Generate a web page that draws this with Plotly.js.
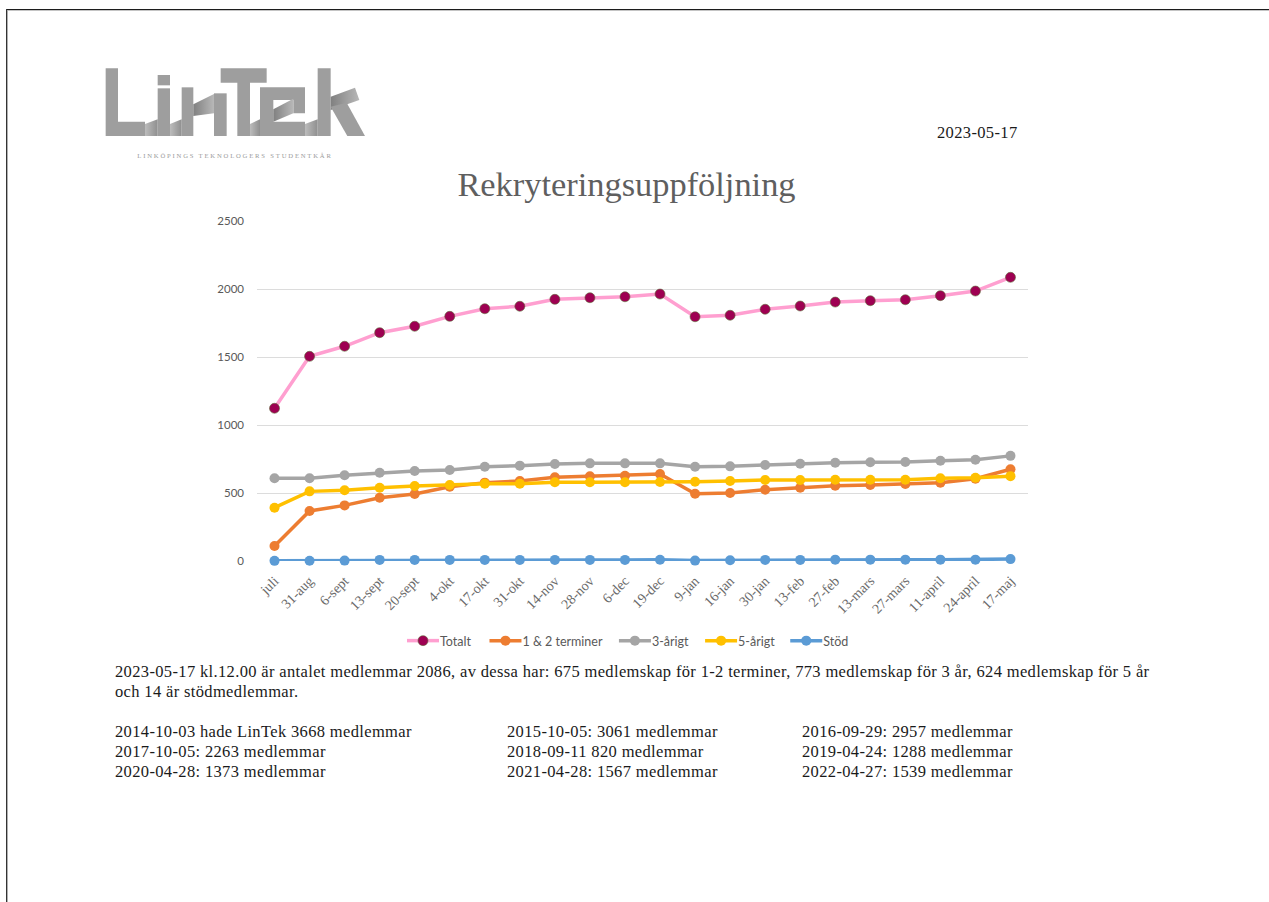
<!DOCTYPE html>
<html lang="sv">
<head>
<meta charset="utf-8">
<title>Rekryteringsuppföljning</title>
<script src="https://cdn.plot.ly/plotly-3.0.1.min.js"></script>
<style>
html,body{margin:0;padding:0;background:#fff;width:1269px;height:902px;overflow:hidden}
#chart{position:absolute;left:0;top:0;width:1269px;height:902px}
#logo{position:absolute;left:90px;top:50px;z-index:5}
.edge{position:absolute;z-index:6}
.annotation-text{letter-spacing:.35px}
</style>
</head>
<body>
<div class="edge" style="left:6px;top:9px;right:0;height:1px;background:#1c1c1c"></div>
<div class="edge" style="left:6px;top:10px;right:0;height:1px;background:#c4c4c4"></div>
<div class="edge" style="left:6px;top:9px;bottom:0;width:1px;background:#333"></div>
<div class="edge" style="left:7px;top:10px;bottom:0;width:1px;background:#b0b0b0"></div>
<div id="chart"></div>
<svg id="logo" width="300" height="120" viewBox="0 0 900 360" xmlns="http://www.w3.org/2000/svg">
  <defs>
    <linearGradient id="rib" x1="0" x2="1" y1="0" y2="0">
      <stop offset="0" stop-color="#bcbcbc"/><stop offset="1" stop-color="#8f8f8f"/>
    </linearGradient>
    <linearGradient id="rib2" x1="0" x2="1" y1="0" y2="0">
      <stop offset="0" stop-color="#808080"/><stop offset="1" stop-color="#b8b8b8"/>
    </linearGradient>
    <filter id="soft"><feGaussianBlur stdDeviation="1.3"/></filter>
  </defs>
  <g fill="#9e9e9e" filter="url(#soft)">
    <path d="M47 55H84V215H165V258H47Z"/>
    <path d="M165 222L203 208V258H165Z" fill="url(#rib)"/>
    <rect x="203" y="75" width="37" height="31"/>
    <path d="M203 115H240V258H203Z"/>
    <path d="M240 222L275 208V258H240Z" fill="url(#rib)"/>
    <path d="M275 112H310V258H275Z"/>
    <path d="M310 163L372 132V190L310 198Z" fill="url(#rib2)"/>
    <path d="M372 130H410V258H372Z"/>
    <path d="M392 55H530V98H480V258H442V98H392Z"/>
    <path d="M480 222L510 208V258H480Z" fill="url(#rib)"/>
    <path d="M510 112H645V190H610V150H550V215H645V258H510Z"/>
    <path d="M550 178L610 146V190L550 215Z" fill="url(#rib2)"/>
    <path d="M645 222L683 208V258H645Z" fill="url(#rib)"/>
    <path d="M683 55H722V258H683Z"/>
    <path d="M722 140L795 113L808 150L722 180Z" fill="url(#rib2)"/>
    <path d="M722 170L770 158L825 258H772Z"/>
  </g>
  <text x="435" y="324" text-anchor="middle" font-family="Liberation Serif" font-size="20" letter-spacing="5.4" fill="#9a9a9a">LINKÖPINGS TEKNOLOGERS STUDENTKÅR</text>
</svg>
<script>
const categories = ["juli","31-aug","6-sept","13-sept","20-sept","4-okt","17-okt","31-okt","14-nov","28-nov","6-dec","19-dec","9-jan","16-jan","30-jan","13-feb","27-feb","13-mars","27-mars","11-april","24-april","17-maj"];
const totalt   = [1123,1505,1579,1679,1726,1799,1855,1873,1924,1936,1943,1963,1796,1807,1851,1875,1904,1914,1921,1951,1985,2086];
const terminer = [110,368,409,465,493,546,576,588,615,623,627,640,495,500,524,539,554,559,566,576,605,675];
const arigt3   = [608,608,630,649,662,669,693,701,713,718,718,718,693,696,706,715,723,726,728,737,745,773];
const arigt5   = [392,512,520,539,551,559,568,568,579,579,579,581,583,588,596,596,598,598,598,608,612,624];
const stod     = [1,2,3,8,8,8,8,8,8,8,8,9,3,5,8,8,10,10,10,10,10,14];

const seriesNames = ["Totalt","1 & 2 terminer","3-årigt","5-årigt","Stöd"];
const seriesValues = [totalt,terminer,arigt3,arigt5,stod];
const lineColors = ["#FF9FD0","#ED7D31","#A5A5A5","#FFC000","#5B9BD5"];
const markerColors = ["#9E0052","#ED7D31","#A5A5A5","#FFC000","#5B9BD5"];

const chartTitle = "Rekryteringsuppföljning";
const dateLabel = "2023-05-17";
const summaryLines = [
  "2023-05-17 kl.12.00 är antalet medlemmar 2086, av dessa har: 675 medlemskap för 1-2 terminer, 773 medlemskap för 3 år, 624 medlemskap för 5 år",
  "och 14 är stödmedlemmar."
];
const historyColumns = [
  ["2014-10-03 hade LinTek 3668 medlemmar","2017-10-05: 2263 medlemmar","2020-04-28: 1373 medlemmar"],
  ["2015-10-05: 3061 medlemmar","2018-09-11 820 medlemmar","2021-04-28: 1567 medlemmar"],
  ["2016-09-29: 2957 medlemmar","2019-04-24: 1288 medlemmar","2022-04-27: 1539 medlemmar"]
];
const legendShift = [0,4,6,8,9];
const legendTextShift = -4;

const W = 1269, H = 902;
const serif = "Liberation Serif, serif";
function note(text, x, y, anchor, size, color) {
  return {text, showarrow:false, xref:"paper", yref:"paper", borderpad:0, borderwidth:0,
    x:(x-257)/771, y:(561-y)/340, xanchor:anchor, yanchor:"middle",
    align:anchor, font:{family:serif,size,color}};
}
const bodySize = 16.5;
const annotations = [note(dateLabel,1018,132,"right",bodySize,"#1a1a1a")];
summaryLines.forEach((t,i)=>annotations.push(note(t,115,671+i*20,"left",bodySize,"#1a1a1a")));
const colX = [115,507,802];
historyColumns.forEach((col,c)=>col.forEach((t,r)=>annotations.push(note(t,colX[c],731+r*20,"left",bodySize,"#1a1a1a"))));

const traces = seriesNames.map((name,i)=>({
  type:"scatter", mode:"lines+markers", name,
  x:categories, y:seriesValues[i], cliponaxis:false,
  line:{color:lineColors[i],width:3.5},
  marker:{color:markerColors[i],size:10,
    line:i===0?{color:"#5f6b3a",width:0.6}:{width:0}}
}));

Plotly.newPlot("chart",traces,{
  width:W,height:H,
  paper_bgcolor:"#fff",plot_bgcolor:"#fff",
  margin:{l:257,r:241,t:221,b:341,pad:0},
  title:{text:chartTitle,xref:"container",yref:"container",x:626.5/W,y:1-183.5/H,
    xanchor:"center",yanchor:"middle",font:{family:serif,size:34.4,color:"#5f5f5f"}},
  xaxis:{type:"category",range:[-0.5,21.5],showgrid:false,zeroline:false,
    showline:false,ticks:"",tickangle:-45,ticklabelstandoff:8,
    tickfont:{family:serif,size:14,color:"#6a6a6a"}},
  yaxis:{range:[0,2500],tickvals:[0,500,1000,1500,2000,2500],ticks:"",
    gridcolor:"#DCDCDC",gridwidth:1,zeroline:false,showline:false,ticklabelstandoff:12,
    tickfont:{family:"Lato, sans-serif",size:11.5,color:"#595959"}},
  showlegend:true,
  legend:{orientation:"h",x:(402-257)/771,xanchor:"left",y:(561-641)/340,yanchor:"middle",
    itemwidth:32,bgcolor:"rgba(0,0,0,0)",
    font:{family:"Lato, sans-serif",size:12.5,color:"#595959"}},
  annotations
},{displayModeBar:false}).then(gd=>{
  gd.querySelectorAll(".legend .traces").forEach((el,i)=>{
    const m=/translate\(([-\d.]+)[ ,]+([-\d.]+)\)/.exec(el.getAttribute("transform")||"");
    if(m) el.setAttribute("transform",`translate(${parseFloat(m[1])+legendShift[i]},${m[2]})`);
    const t=el.querySelector(".legendtext");
    if(t) t.setAttribute("x",parseFloat(t.getAttribute("x"))+legendTextShift);
  });
});
</script>
</body>
</html>
